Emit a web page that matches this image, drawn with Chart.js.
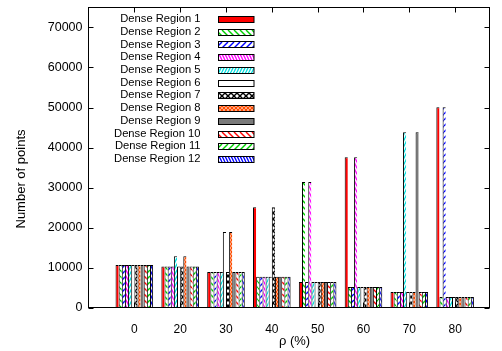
<!DOCTYPE html>
<html><head><meta charset="utf-8">
<script src="https://cdn.jsdelivr.net/npm/chart.js@4.4.0/dist/chart.umd.min.js"></script>
<style>html,body{margin:0;padding:0;background:#fff;}#wrap{width:502px;height:351px;}</style>
</head><body><div id="wrap"><canvas id="c" width="502" height="351"></canvas></div>
<script>
// ---- data ----
const categories = ['0', '20', '30', '40', '50', '60', '70', '80'];
const yTickValues = [0, 10000, 20000, 30000, 40000, 50000, 60000, 70000];
const regionLabels = ['Dense Region 1','Dense Region 2','Dense Region 3','Dense Region 4','Dense Region 5','Dense Region 6','Dense Region 7','Dense Region 8','Dense Region 9','Dense Region 10','Dense Region 11','Dense Region 12'];
const region1  = [10650, 10250,  8900, 25050,  6400, 37550,  3900, 50050];
const region2  = [10650, 10250,  8900,  7700, 31400,  5150,  3900,  2650];
const region3  = [10650, 10250,  8900,  7700,  6400,  5150,  3900, 50050];
const region4  = [10650, 10250,  8900,  7700, 31400, 37550,  3900,  2650];
const region5  = [10650, 12800,  8900,  7700,  6400,  5150, 43800,  2650];
const region6  = [10650, 10250, 18900,  7700,  6400,  5150,  3900,  2650];
const region7  = [10650, 10250,  8900, 25050,  6400,  5150,  3900,  2650];
const region8  = [10650, 12800, 18900,  7700,  6400,  5150,  3900,  2650];
const region9  = [10650, 10250,  8900,  7700,  6400,  5150, 43800,  2650];
const region10 = [10650, 10250,  8900,  7700,  6400,  5150,  3900,  2650];
const region11 = [10650, 10250,  8900,  7700,  6400,  5150,  3900,  2650];
const region12 = [10650, 10250,  8900,  7700,  6400,  5150,  3900,  2650];
const regionValues = [region1,region2,region3,region4,region5,region6,region7,region8,region9,region10,region11,region12];

// ---- styles ----
const regionColors = ['#ff0000','#00d000','#0000ff','#ff00ff','#00e0e0','#ffff00','#000000','#ff4d00','#7a7a7a','#ff0000','#00d000','#0000ff'];
const regionFills  = ['solid','back','fwd','backDense','fwdDense','empty','crossBig','crossFine','solid','back','fwd','backDense'];

function makePattern(kind, color) {
  if (kind === 'solid') return color;
  if (kind === 'empty') return '#ffffff';
  const c = document.createElement('canvas');
  let w = 6, h = 6;
  if (kind === 'backDense' || kind === 'fwdDense') { w = 3; h = 6; }
  if (kind === 'crossFine') { w = 4; h = 4; }
  c.width = w; c.height = h;
  const g = c.getContext('2d');
  g.fillStyle = '#fff'; g.fillRect(0, 0, w, h);
  g.strokeStyle = color; g.lineWidth = 1.4;
  const line = (x1, y1, x2, y2) => { g.beginPath(); g.moveTo(x1, y1); g.lineTo(x2, y2); g.stroke(); };
  const back = () => { for (const o of [-w, 0, w]) line(o, 0, o + w, h); };
  const fwd = () => { for (const o of [-w, 0, w]) line(o, h, o + w, 0); };
  if (kind === 'back' || kind === 'backDense') back();
  if (kind === 'fwd' || kind === 'fwdDense') fwd();
  if (kind === 'crossBig' || kind === 'crossFine') { back(); fwd(); }
  return g.createPattern(c, 'repeat');
}

const datasets = regionValues.map((vals, k) => ({
  label: regionLabels[k],
  data: vals.map((v, i) => ({ x: i, y: v })),
  backgroundColor: makePattern(regionFills[k], regionColors[k]),
  borderColor: '#000',
  borderWidth: { left: 1, top: 1, right: k === regionValues.length - 1 ? 1 : 0, bottom: 0 },
  borderSkipped: false,
  inflateAmount: 0,
  categoryPercentage: 0.82,
  barPercentage: 1.0
}));

const FONT = "'Liberation Sans', Arial, Helvetica, sans-serif";

const framePlugin = {
  id: 'frame',
  afterDatasetsDraw(chart) {
    const { ctx, chartArea: a, scales } = chart;
    ctx.save();
    ctx.strokeStyle = '#000'; ctx.lineWidth = 1;
    ctx.strokeRect(a.left, a.top, a.right - a.left, a.bottom - a.top);
    ctx.beginPath();
    for (const t of scales.y.ticks) {
      const y = Math.round(scales.y.getPixelForValue(t.value)) + 0.5;
      ctx.moveTo(a.left, y); ctx.lineTo(a.left + 5, y);
      ctx.moveTo(a.right, y); ctx.lineTo(a.right - 5, y);
    }
    for (const t of scales.x.ticks) {
      const x = Math.round(scales.x.getPixelForValue(t.value)) + 0.5;
      ctx.moveTo(x, a.bottom); ctx.lineTo(x, a.bottom - 5);
      ctx.moveTo(x, a.top); ctx.lineTo(x, a.top + 5);
    }
    ctx.stroke();
    ctx.restore();
  },
  afterDraw(chart) {
    const { ctx } = chart;
    ctx.save();
    // legend
    ctx.font = '11.2px ' + FONT;
    ctx.textAlign = 'right'; ctx.textBaseline = 'middle'; ctx.fillStyle = '#000';
    chart.data.datasets.forEach((ds, i) => {
      const y = 19 + i * 12.73;
      ctx.fillText(ds.label, 200.5, y);
      ctx.fillStyle = ds.backgroundColor;
      ctx.fillRect(218.5, Math.round(y - 3) + 0.5, 35.5, 6);
      ctx.strokeStyle = '#000'; ctx.lineWidth = 1;
      ctx.strokeRect(218.5, Math.round(y - 3) + 0.5, 35.5, 6);
      ctx.fillStyle = '#000';
    });
    // axis titles
    ctx.font = '13px ' + FONT;
    ctx.textAlign = 'center'; ctx.textBaseline = 'middle';
    ctx.fillText('ρ (%)', 294.5, 341);
    ctx.translate(21, 179);
    ctx.rotate(-Math.PI / 2);
    ctx.fillText('Number of points', 0, 0);
    ctx.restore();
  }
};

new Chart(document.getElementById('c'), {
  type: 'bar',
  data: { datasets },
  options: {
    responsive: false,
    animation: false,
    devicePixelRatio: 1,
    layout: { padding: { left: 0, top: 7.5, right: 12.5, bottom: 0 } },
    plugins: { legend: { display: false }, tooltip: { enabled: false } },
    scales: {
      x: {
        type: 'linear', min: -1, max: 7.75, offset: false,
        grid: { display: false, drawTicks: false },
        border: { display: false },
        afterBuildTicks: (s) => { s.ticks = categories.map((_, i) => ({ value: i })); },
        afterFit: (s) => { s.height = 43.5; s.paddingLeft = 0; s.paddingRight = 0; },
        ticks: {
          autoSkip: false, maxRotation: 0, padding: 15,
          color: '#000', font: { family: FONT, size: 12 },
          callback: (v) => categories[v] ?? ''
        }
      },
      y: {
        min: 0, max: 75000,
        grid: { display: false, drawTicks: false },
        border: { display: false },
        afterBuildTicks: (s) => { s.ticks = yTickValues.map(v => ({ value: v })); },
        afterFit: (s) => { s.width = 88.5; s.paddingTop = 0; s.paddingBottom = 0; },
        ticks: { padding: 6, color: '#000', font: { family: FONT, size: 12.5 }, callback: (v) => String(v) }
      }
    }
  },
  plugins: [framePlugin]
});
</script></body></html>
